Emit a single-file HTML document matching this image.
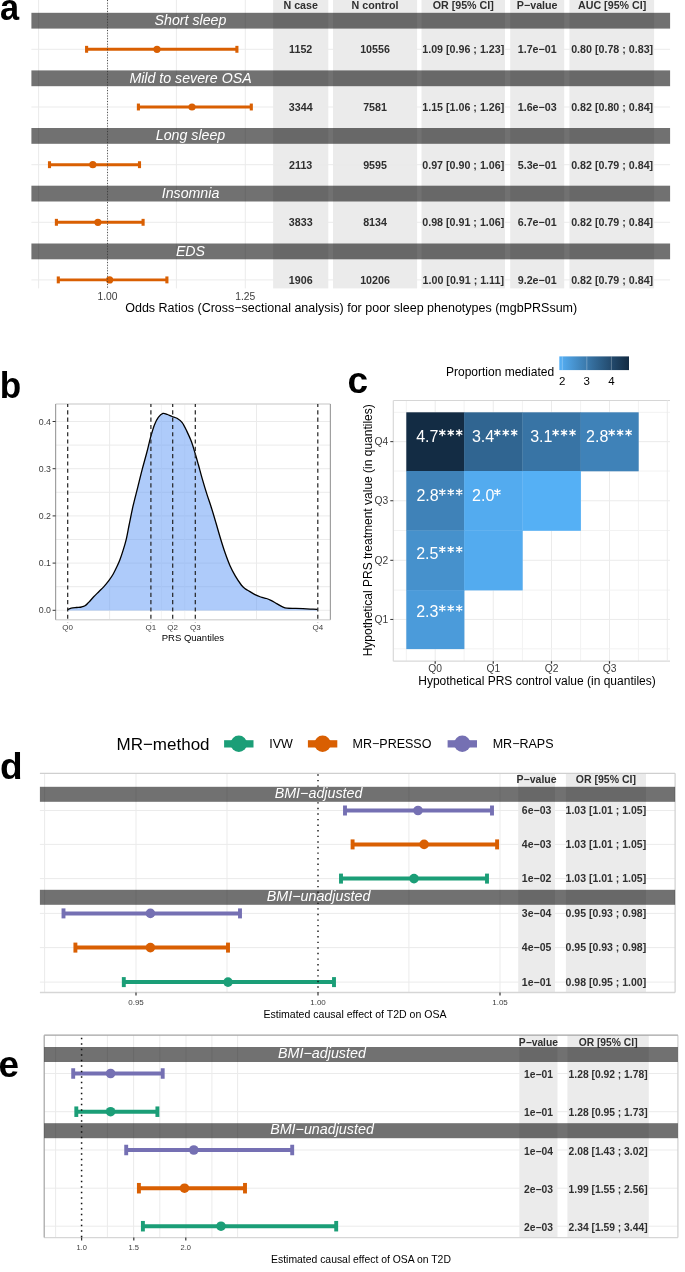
<!DOCTYPE html><html><head><meta charset="utf-8"><style>html,body{margin:0;padding:0;background:#fff;}svg{display:block;will-change:transform;}text{font-family:"Liberation Sans", sans-serif;}</style></head><body>
<svg width="685" height="1272" viewBox="0 0 685 1272">
<rect x="0.00" y="0.00" width="685.00" height="1272.00" fill="#fff" />
<rect x="273.10" y="0.00" width="55.20" height="288.40" fill="#EBEBEB" />
<rect x="333.00" y="0.00" width="84.10" height="288.40" fill="#EBEBEB" />
<rect x="421.50" y="0.00" width="83.50" height="288.40" fill="#EBEBEB" />
<rect x="510.20" y="0.00" width="54.00" height="288.40" fill="#EBEBEB" />
<rect x="569.40" y="0.00" width="84.70" height="288.40" fill="#EBEBEB" />
<line x1="38.60" y1="0.00" x2="38.60" y2="288.40" stroke="#EBEBEB" stroke-width="1" />
<line x1="107.60" y1="0.00" x2="107.60" y2="288.40" stroke="#EBEBEB" stroke-width="1" />
<line x1="176.40" y1="0.00" x2="176.40" y2="288.40" stroke="#EBEBEB" stroke-width="1" />
<line x1="245.30" y1="0.00" x2="245.30" y2="288.40" stroke="#EBEBEB" stroke-width="1" />
<line x1="31.40" y1="49.30" x2="670.10" y2="49.30" stroke="#EBEBEB" stroke-width="1" />
<line x1="31.40" y1="107.00" x2="670.10" y2="107.00" stroke="#EBEBEB" stroke-width="1" />
<line x1="31.40" y1="164.70" x2="670.10" y2="164.70" stroke="#EBEBEB" stroke-width="1" />
<line x1="31.40" y1="222.30" x2="670.10" y2="222.30" stroke="#EBEBEB" stroke-width="1" />
<line x1="31.40" y1="279.90" x2="670.10" y2="279.90" stroke="#EBEBEB" stroke-width="1" />
<rect x="31.40" y="12.80" width="638.70" height="15.80" fill="#000" fill-opacity="0.555" />
<text x="190.50" y="25.00" font-size="14.2" fill="#fff" text-anchor="middle" font-weight="normal" font-style="italic" >Short sleep</text>
<rect x="31.40" y="70.40" width="638.70" height="15.80" fill="#000" fill-opacity="0.555" />
<text x="190.50" y="82.60" font-size="14.2" fill="#fff" text-anchor="middle" font-weight="normal" font-style="italic" >Mild to severe OSA</text>
<rect x="31.40" y="128.00" width="638.70" height="15.80" fill="#000" fill-opacity="0.555" />
<text x="190.50" y="140.20" font-size="14.2" fill="#fff" text-anchor="middle" font-weight="normal" font-style="italic" >Long sleep</text>
<rect x="31.40" y="185.70" width="638.70" height="15.80" fill="#000" fill-opacity="0.555" />
<text x="190.50" y="197.90" font-size="14.2" fill="#fff" text-anchor="middle" font-weight="normal" font-style="italic" >Insomnia</text>
<rect x="31.40" y="243.50" width="638.70" height="15.80" fill="#000" fill-opacity="0.555" />
<text x="190.50" y="255.70" font-size="14.2" fill="#fff" text-anchor="middle" font-weight="normal" font-style="italic" >EDS</text>
<line x1="86.60" y1="49.30" x2="236.90" y2="49.30" stroke="#D95F02" stroke-width="2.9" />
<rect x="85.05" y="45.85" width="3.10" height="6.90" fill="#D95F02" />
<rect x="235.35" y="45.85" width="3.10" height="6.90" fill="#D95F02" />
<circle cx="157.00" cy="49.30" r="3.6" fill="#D95F02"/>
<line x1="138.40" y1="107.00" x2="251.30" y2="107.00" stroke="#D95F02" stroke-width="2.9" />
<rect x="136.85" y="103.55" width="3.10" height="6.90" fill="#D95F02" />
<rect x="249.75" y="103.55" width="3.10" height="6.90" fill="#D95F02" />
<circle cx="192.00" cy="107.00" r="3.6" fill="#D95F02"/>
<line x1="49.50" y1="164.70" x2="139.50" y2="164.70" stroke="#D95F02" stroke-width="2.9" />
<rect x="47.95" y="161.25" width="3.10" height="6.90" fill="#D95F02" />
<rect x="137.95" y="161.25" width="3.10" height="6.90" fill="#D95F02" />
<circle cx="92.80" cy="164.70" r="3.6" fill="#D95F02"/>
<line x1="56.40" y1="222.30" x2="143.10" y2="222.30" stroke="#D95F02" stroke-width="2.9" />
<rect x="54.85" y="218.85" width="3.10" height="6.90" fill="#D95F02" />
<rect x="141.55" y="218.85" width="3.10" height="6.90" fill="#D95F02" />
<circle cx="97.90" cy="222.30" r="3.6" fill="#D95F02"/>
<line x1="58.30" y1="279.90" x2="166.90" y2="279.90" stroke="#D95F02" stroke-width="2.9" />
<rect x="56.75" y="276.45" width="3.10" height="6.90" fill="#D95F02" />
<rect x="165.35" y="276.45" width="3.10" height="6.90" fill="#D95F02" />
<circle cx="109.60" cy="279.90" r="3.6" fill="#D95F02"/>
<line x1="107.50" y1="0.00" x2="107.50" y2="288.40" stroke="#3A3A3A" stroke-width="0.9" stroke-dasharray="1 1.73"/>
<text x="300.70" y="9.00" font-size="10.7" fill="#2F2F2F" text-anchor="middle" font-weight="bold" font-style="normal" >N case</text>
<text x="375.05" y="9.00" font-size="10.7" fill="#2F2F2F" text-anchor="middle" font-weight="bold" font-style="normal" >N control</text>
<text x="463.25" y="9.00" font-size="10.7" fill="#2F2F2F" text-anchor="middle" font-weight="bold" font-style="normal" >OR [95% CI]</text>
<text x="537.20" y="9.00" font-size="10.7" fill="#2F2F2F" text-anchor="middle" font-weight="bold" font-style="normal" >P−value</text>
<text x="612.15" y="9.00" font-size="10.7" fill="#2F2F2F" text-anchor="middle" font-weight="bold" font-style="normal" >AUC [95% CI]</text>
<text x="300.70" y="53.40" font-size="10.7" fill="#2F2F2F" text-anchor="middle" font-weight="bold" font-style="normal" >1152</text>
<text x="375.05" y="53.40" font-size="10.7" fill="#2F2F2F" text-anchor="middle" font-weight="bold" font-style="normal" >10556</text>
<text x="463.25" y="53.40" font-size="10.7" fill="#2F2F2F" text-anchor="middle" font-weight="bold" font-style="normal" >1.09 [0.96 ; 1.23]</text>
<text x="537.20" y="53.40" font-size="10.7" fill="#2F2F2F" text-anchor="middle" font-weight="bold" font-style="normal" >1.7e−01</text>
<text x="612.15" y="53.40" font-size="10.7" fill="#2F2F2F" text-anchor="middle" font-weight="bold" font-style="normal" >0.80 [0.78 ; 0.83]</text>
<text x="300.70" y="111.10" font-size="10.7" fill="#2F2F2F" text-anchor="middle" font-weight="bold" font-style="normal" >3344</text>
<text x="375.05" y="111.10" font-size="10.7" fill="#2F2F2F" text-anchor="middle" font-weight="bold" font-style="normal" >7581</text>
<text x="463.25" y="111.10" font-size="10.7" fill="#2F2F2F" text-anchor="middle" font-weight="bold" font-style="normal" >1.15 [1.06 ; 1.26]</text>
<text x="537.20" y="111.10" font-size="10.7" fill="#2F2F2F" text-anchor="middle" font-weight="bold" font-style="normal" >1.6e−03</text>
<text x="612.15" y="111.10" font-size="10.7" fill="#2F2F2F" text-anchor="middle" font-weight="bold" font-style="normal" >0.82 [0.80 ; 0.84]</text>
<text x="300.70" y="168.80" font-size="10.7" fill="#2F2F2F" text-anchor="middle" font-weight="bold" font-style="normal" >2113</text>
<text x="375.05" y="168.80" font-size="10.7" fill="#2F2F2F" text-anchor="middle" font-weight="bold" font-style="normal" >9595</text>
<text x="463.25" y="168.80" font-size="10.7" fill="#2F2F2F" text-anchor="middle" font-weight="bold" font-style="normal" >0.97 [0.90 ; 1.06]</text>
<text x="537.20" y="168.80" font-size="10.7" fill="#2F2F2F" text-anchor="middle" font-weight="bold" font-style="normal" >5.3e−01</text>
<text x="612.15" y="168.80" font-size="10.7" fill="#2F2F2F" text-anchor="middle" font-weight="bold" font-style="normal" >0.82 [0.79 ; 0.84]</text>
<text x="300.70" y="226.40" font-size="10.7" fill="#2F2F2F" text-anchor="middle" font-weight="bold" font-style="normal" >3833</text>
<text x="375.05" y="226.40" font-size="10.7" fill="#2F2F2F" text-anchor="middle" font-weight="bold" font-style="normal" >8134</text>
<text x="463.25" y="226.40" font-size="10.7" fill="#2F2F2F" text-anchor="middle" font-weight="bold" font-style="normal" >0.98 [0.91 ; 1.06]</text>
<text x="537.20" y="226.40" font-size="10.7" fill="#2F2F2F" text-anchor="middle" font-weight="bold" font-style="normal" >6.7e−01</text>
<text x="612.15" y="226.40" font-size="10.7" fill="#2F2F2F" text-anchor="middle" font-weight="bold" font-style="normal" >0.82 [0.79 ; 0.84]</text>
<text x="300.70" y="284.00" font-size="10.7" fill="#2F2F2F" text-anchor="middle" font-weight="bold" font-style="normal" >1906</text>
<text x="375.05" y="284.00" font-size="10.7" fill="#2F2F2F" text-anchor="middle" font-weight="bold" font-style="normal" >10206</text>
<text x="463.25" y="284.00" font-size="10.7" fill="#2F2F2F" text-anchor="middle" font-weight="bold" font-style="normal" >1.00 [0.91 ; 1.11]</text>
<text x="537.20" y="284.00" font-size="10.7" fill="#2F2F2F" text-anchor="middle" font-weight="bold" font-style="normal" >9.2e−01</text>
<text x="612.15" y="284.00" font-size="10.7" fill="#2F2F2F" text-anchor="middle" font-weight="bold" font-style="normal" >0.82 [0.79 ; 0.84]</text>
<text x="107.50" y="299.50" font-size="10.3" fill="#3C3C3C" text-anchor="middle" font-weight="normal" font-style="normal" >1.00</text>
<text x="245.30" y="299.50" font-size="10.3" fill="#3C3C3C" text-anchor="middle" font-weight="normal" font-style="normal" >1.25</text>
<text x="351.20" y="312.20" font-size="12.5" fill="#000" text-anchor="middle" font-weight="normal" font-style="normal" >Odds Ratios (Cross−sectional analysis) for poor sleep phenotypes (mgbPRSsum)</text>
<text transform="translate(0,20.3) scale(0.93,1)" font-size="37" font-weight="bold" fill="#000">a</text>
<line x1="55.60" y1="610.30" x2="330.40" y2="610.30" stroke="#EBEBEB" stroke-width="1" />
<line x1="55.60" y1="586.70" x2="330.40" y2="586.70" stroke="#EBEBEB" stroke-width="1" />
<line x1="55.60" y1="563.10" x2="330.40" y2="563.10" stroke="#EBEBEB" stroke-width="1" />
<line x1="55.60" y1="539.50" x2="330.40" y2="539.50" stroke="#EBEBEB" stroke-width="1" />
<line x1="55.60" y1="515.90" x2="330.40" y2="515.90" stroke="#EBEBEB" stroke-width="1" />
<line x1="55.60" y1="492.30" x2="330.40" y2="492.30" stroke="#EBEBEB" stroke-width="1" />
<line x1="55.60" y1="468.70" x2="330.40" y2="468.70" stroke="#EBEBEB" stroke-width="1" />
<line x1="55.60" y1="445.10" x2="330.40" y2="445.10" stroke="#EBEBEB" stroke-width="1" />
<line x1="55.60" y1="421.50" x2="330.40" y2="421.50" stroke="#EBEBEB" stroke-width="1" />
<line x1="109.60" y1="404.00" x2="109.60" y2="619.80" stroke="#EBEBEB" stroke-width="1" />
<line x1="256.50" y1="404.00" x2="256.50" y2="619.80" stroke="#EBEBEB" stroke-width="1" />
<line x1="161.40" y1="404.00" x2="161.40" y2="619.80" stroke="#F3F3F3" stroke-width="1" />
<line x1="184.80" y1="404.00" x2="184.80" y2="619.80" stroke="#F3F3F3" stroke-width="1" />
<path d="M67.40,609.60 C68.03,609.37 69.72,608.55 71.20,608.20 C72.68,607.85 74.58,607.70 76.30,607.50 C78.02,607.30 80.05,607.28 81.50,607.00 C82.95,606.72 83.82,606.57 85.00,605.80 C86.18,605.03 87.15,603.90 88.60,602.40 C90.05,600.90 92.00,598.58 93.70,596.80 C95.40,595.02 97.10,593.40 98.80,591.70 C100.50,590.00 102.20,588.48 103.90,586.60 C105.60,584.72 107.47,582.45 109.00,580.40 C110.53,578.35 111.73,576.68 113.10,574.30 C114.47,571.92 116.05,568.57 117.20,566.10 C118.35,563.63 119.03,562.08 120.00,559.50 C120.97,556.92 121.98,553.87 123.00,550.60 C124.02,547.33 125.07,544.25 126.10,539.90 C127.13,535.55 128.05,530.12 129.20,524.50 C130.35,518.88 131.60,512.32 133.00,506.20 C134.40,500.08 136.07,493.93 137.60,487.80 C139.13,481.67 140.67,475.28 142.20,469.40 C143.73,463.52 145.40,457.87 146.80,452.50 C148.20,447.13 149.33,441.80 150.60,437.20 C151.87,432.60 153.12,428.22 154.40,424.90 C155.68,421.58 156.88,419.22 158.30,417.30 C159.72,415.38 161.37,413.87 162.90,413.40 C164.43,412.93 165.97,413.98 167.50,414.50 C169.03,415.02 170.52,415.87 172.10,416.50 C173.68,417.13 175.32,417.28 177.00,418.30 C178.68,419.32 180.57,420.47 182.20,422.60 C183.83,424.73 185.25,427.90 186.80,431.10 C188.35,434.30 190.08,437.98 191.50,441.80 C192.92,445.62 194.15,450.17 195.30,454.00 C196.45,457.83 197.25,460.70 198.40,464.80 C199.55,468.90 200.80,473.75 202.20,478.60 C203.60,483.45 205.27,489.05 206.80,493.90 C208.33,498.75 209.87,502.85 211.40,507.70 C212.93,512.55 214.48,517.87 216.00,523.00 C217.52,528.13 219.02,533.62 220.50,538.50 C221.98,543.38 223.33,547.80 224.90,552.30 C226.47,556.80 228.15,561.52 229.90,565.50 C231.65,569.48 233.50,572.95 235.40,576.20 C237.30,579.45 239.73,582.95 241.30,585.00 C242.87,587.05 243.43,587.43 244.80,588.50 C246.17,589.57 247.80,590.38 249.50,591.40 C251.20,592.42 253.13,593.67 255.00,594.60 C256.87,595.53 258.78,596.35 260.70,597.00 C262.62,597.65 264.80,597.93 266.50,598.50 C268.20,599.07 269.20,599.55 270.90,600.40 C272.60,601.25 274.75,602.52 276.70,603.60 C278.65,604.68 280.90,606.13 282.60,606.90 C284.30,607.67 284.72,607.95 286.90,608.20 C289.08,608.45 293.02,608.32 295.70,608.40 C298.38,608.48 300.57,608.58 303.00,608.70 C305.43,608.82 307.87,608.98 310.30,609.10 C312.73,609.22 316.38,609.35 317.60,609.40 L317.6,610.5999999999999 L67.4,610.5999999999999 Z" fill="#5D97F5" fill-opacity="0.5" stroke="none"/>
<path d="M67.40,609.60 C68.03,609.37 69.72,608.55 71.20,608.20 C72.68,607.85 74.58,607.70 76.30,607.50 C78.02,607.30 80.05,607.28 81.50,607.00 C82.95,606.72 83.82,606.57 85.00,605.80 C86.18,605.03 87.15,603.90 88.60,602.40 C90.05,600.90 92.00,598.58 93.70,596.80 C95.40,595.02 97.10,593.40 98.80,591.70 C100.50,590.00 102.20,588.48 103.90,586.60 C105.60,584.72 107.47,582.45 109.00,580.40 C110.53,578.35 111.73,576.68 113.10,574.30 C114.47,571.92 116.05,568.57 117.20,566.10 C118.35,563.63 119.03,562.08 120.00,559.50 C120.97,556.92 121.98,553.87 123.00,550.60 C124.02,547.33 125.07,544.25 126.10,539.90 C127.13,535.55 128.05,530.12 129.20,524.50 C130.35,518.88 131.60,512.32 133.00,506.20 C134.40,500.08 136.07,493.93 137.60,487.80 C139.13,481.67 140.67,475.28 142.20,469.40 C143.73,463.52 145.40,457.87 146.80,452.50 C148.20,447.13 149.33,441.80 150.60,437.20 C151.87,432.60 153.12,428.22 154.40,424.90 C155.68,421.58 156.88,419.22 158.30,417.30 C159.72,415.38 161.37,413.87 162.90,413.40 C164.43,412.93 165.97,413.98 167.50,414.50 C169.03,415.02 170.52,415.87 172.10,416.50 C173.68,417.13 175.32,417.28 177.00,418.30 C178.68,419.32 180.57,420.47 182.20,422.60 C183.83,424.73 185.25,427.90 186.80,431.10 C188.35,434.30 190.08,437.98 191.50,441.80 C192.92,445.62 194.15,450.17 195.30,454.00 C196.45,457.83 197.25,460.70 198.40,464.80 C199.55,468.90 200.80,473.75 202.20,478.60 C203.60,483.45 205.27,489.05 206.80,493.90 C208.33,498.75 209.87,502.85 211.40,507.70 C212.93,512.55 214.48,517.87 216.00,523.00 C217.52,528.13 219.02,533.62 220.50,538.50 C221.98,543.38 223.33,547.80 224.90,552.30 C226.47,556.80 228.15,561.52 229.90,565.50 C231.65,569.48 233.50,572.95 235.40,576.20 C237.30,579.45 239.73,582.95 241.30,585.00 C242.87,587.05 243.43,587.43 244.80,588.50 C246.17,589.57 247.80,590.38 249.50,591.40 C251.20,592.42 253.13,593.67 255.00,594.60 C256.87,595.53 258.78,596.35 260.70,597.00 C262.62,597.65 264.80,597.93 266.50,598.50 C268.20,599.07 269.20,599.55 270.90,600.40 C272.60,601.25 274.75,602.52 276.70,603.60 C278.65,604.68 280.90,606.13 282.60,606.90 C284.30,607.67 284.72,607.95 286.90,608.20 C289.08,608.45 293.02,608.32 295.70,608.40 C298.38,608.48 300.57,608.58 303.00,608.70 C305.43,608.82 307.87,608.98 310.30,609.10 C312.73,609.22 316.38,609.35 317.60,609.40" fill="none" stroke="#000" stroke-width="1.3"/>
<line x1="55.60" y1="404.00" x2="330.40" y2="404.00" stroke="#D9D9D9" stroke-width="1.4" />
<line x1="55.60" y1="619.80" x2="330.40" y2="619.80" stroke="#D9D9D9" stroke-width="1.4" />
<line x1="330.40" y1="404.00" x2="330.40" y2="619.80" stroke="#A0A0A0" stroke-width="1.2" />
<line x1="55.60" y1="404.00" x2="55.60" y2="619.80" stroke="#A0A0A0" stroke-width="1.2" />
<line x1="67.70" y1="404.00" x2="67.70" y2="622.30" stroke="#222" stroke-width="1.2" stroke-dasharray="4.1 3.2" stroke-dashoffset="1.0"/>
<line x1="150.90" y1="404.00" x2="150.90" y2="622.30" stroke="#222" stroke-width="1.2" stroke-dasharray="4.1 3.2" stroke-dashoffset="1.0"/>
<line x1="172.70" y1="404.00" x2="172.70" y2="622.30" stroke="#222" stroke-width="1.2" stroke-dasharray="4.1 3.2" stroke-dashoffset="1.0"/>
<line x1="195.30" y1="404.00" x2="195.30" y2="622.30" stroke="#222" stroke-width="1.2" stroke-dasharray="4.1 3.2" stroke-dashoffset="1.0"/>
<line x1="317.80" y1="404.00" x2="317.80" y2="622.30" stroke="#222" stroke-width="1.2" stroke-dasharray="4.1 3.2" stroke-dashoffset="1.0"/>
<line x1="52.60" y1="610.30" x2="55.60" y2="610.30" stroke="#333" stroke-width="1" />
<text x="51.00" y="613.40" font-size="8.8" fill="#3C3C3C" text-anchor="end" font-weight="normal" font-style="normal" >0.0</text>
<line x1="52.60" y1="563.10" x2="55.60" y2="563.10" stroke="#333" stroke-width="1" />
<text x="51.00" y="566.20" font-size="8.8" fill="#3C3C3C" text-anchor="end" font-weight="normal" font-style="normal" >0.1</text>
<line x1="52.60" y1="515.90" x2="55.60" y2="515.90" stroke="#333" stroke-width="1" />
<text x="51.00" y="519.00" font-size="8.8" fill="#3C3C3C" text-anchor="end" font-weight="normal" font-style="normal" >0.2</text>
<line x1="52.60" y1="468.70" x2="55.60" y2="468.70" stroke="#333" stroke-width="1" />
<text x="51.00" y="471.80" font-size="8.8" fill="#3C3C3C" text-anchor="end" font-weight="normal" font-style="normal" >0.3</text>
<line x1="52.60" y1="421.50" x2="55.60" y2="421.50" stroke="#333" stroke-width="1" />
<text x="51.00" y="424.60" font-size="8.8" fill="#3C3C3C" text-anchor="end" font-weight="normal" font-style="normal" >0.4</text>
<text x="67.70" y="630.00" font-size="8" fill="#3C3C3C" text-anchor="middle" font-weight="normal" font-style="normal" >Q0</text>
<text x="150.90" y="630.00" font-size="8" fill="#3C3C3C" text-anchor="middle" font-weight="normal" font-style="normal" >Q1</text>
<text x="172.70" y="630.00" font-size="8" fill="#3C3C3C" text-anchor="middle" font-weight="normal" font-style="normal" >Q2</text>
<text x="195.30" y="630.00" font-size="8" fill="#3C3C3C" text-anchor="middle" font-weight="normal" font-style="normal" >Q3</text>
<text x="317.80" y="630.00" font-size="8" fill="#3C3C3C" text-anchor="middle" font-weight="normal" font-style="normal" >Q4</text>
<text x="192.90" y="640.70" font-size="9.5" fill="#000" text-anchor="middle" font-weight="normal" font-style="normal" >PRS Quantiles</text>
<text transform="translate(-0.3,398.3) scale(0.95,1)" font-size="37" font-weight="bold" fill="#000">b</text>
<line x1="435.20" y1="400.50" x2="435.20" y2="661.20" stroke="#EBEBEB" stroke-width="1" />
<line x1="493.25" y1="400.50" x2="493.25" y2="661.20" stroke="#EBEBEB" stroke-width="1" />
<line x1="551.50" y1="400.50" x2="551.50" y2="661.20" stroke="#EBEBEB" stroke-width="1" />
<line x1="609.50" y1="400.50" x2="609.50" y2="661.20" stroke="#EBEBEB" stroke-width="1" />
<line x1="406.30" y1="400.50" x2="406.30" y2="661.20" stroke="#F2F2F2" stroke-width="1" />
<line x1="464.10" y1="400.50" x2="464.10" y2="661.20" stroke="#F2F2F2" stroke-width="1" />
<line x1="522.40" y1="400.50" x2="522.40" y2="661.20" stroke="#F2F2F2" stroke-width="1" />
<line x1="580.60" y1="400.50" x2="580.60" y2="661.20" stroke="#F2F2F2" stroke-width="1" />
<line x1="638.40" y1="400.50" x2="638.40" y2="661.20" stroke="#F2F2F2" stroke-width="1" />
<line x1="393.30" y1="441.65" x2="670.00" y2="441.65" stroke="#EBEBEB" stroke-width="1" />
<line x1="393.30" y1="500.75" x2="670.00" y2="500.75" stroke="#EBEBEB" stroke-width="1" />
<line x1="393.30" y1="560.30" x2="670.00" y2="560.30" stroke="#EBEBEB" stroke-width="1" />
<line x1="393.30" y1="619.45" x2="670.00" y2="619.45" stroke="#EBEBEB" stroke-width="1" />
<line x1="393.30" y1="412.30" x2="670.00" y2="412.30" stroke="#F2F2F2" stroke-width="1" />
<line x1="393.30" y1="471.00" x2="670.00" y2="471.00" stroke="#F2F2F2" stroke-width="1" />
<line x1="393.30" y1="530.50" x2="670.00" y2="530.50" stroke="#F2F2F2" stroke-width="1" />
<line x1="393.30" y1="590.10" x2="670.00" y2="590.10" stroke="#F2F2F2" stroke-width="1" />
<line x1="393.30" y1="648.80" x2="670.00" y2="648.80" stroke="#F2F2F2" stroke-width="1" />
<line x1="393.30" y1="400.50" x2="670.00" y2="400.50" stroke="#D6D6D6" stroke-width="1.2" />
<line x1="393.30" y1="661.20" x2="670.00" y2="661.20" stroke="#D9D9D9" stroke-width="1.2" />
<line x1="393.30" y1="400.50" x2="393.30" y2="661.20" stroke="#D9D9D9" stroke-width="1.2" />
<line x1="667.30" y1="400.50" x2="667.30" y2="661.20" stroke="#EBEBEB" stroke-width="1" />
<rect x="406.30" y="412.30" width="58.10" height="59.00" fill="#132C44" />
<rect x="464.10" y="412.30" width="58.60" height="59.00" fill="#306591" />
<rect x="522.40" y="412.30" width="58.50" height="59.00" fill="#3874A5" />
<rect x="580.60" y="412.30" width="58.10" height="59.00" fill="#3F82B8" />
<rect x="406.30" y="471.00" width="58.10" height="59.80" fill="#3F82B8" />
<rect x="464.10" y="471.00" width="58.60" height="59.80" fill="#53ABEF" />
<rect x="522.40" y="471.00" width="58.50" height="59.80" fill="#55B0F5" />
<rect x="406.30" y="530.50" width="58.10" height="59.90" fill="#4691CC" />
<rect x="464.10" y="530.50" width="58.60" height="59.90" fill="#53ABEF" />
<rect x="406.30" y="590.10" width="58.10" height="59.00" fill="#4B9BDA" />
<text x="416.20" y="441.80" font-size="16.0" fill="#fff" text-anchor="start">4.7</text>
<text x="471.90" y="441.80" font-size="16.0" fill="#fff" text-anchor="start">3.4</text>
<text x="530.20" y="441.80" font-size="16.0" fill="#fff" text-anchor="start">3.1</text>
<text x="586.10" y="441.80" font-size="16.0" fill="#fff" text-anchor="start">2.8</text>
<text x="416.40" y="501.30" font-size="16.0" fill="#fff" text-anchor="start">2.8</text>
<text x="472.10" y="501.30" font-size="16.0" fill="#fff" text-anchor="start">2.0</text>
<text x="416.20" y="558.50" font-size="16.0" fill="#fff" text-anchor="start">2.5</text>
<text x="416.20" y="617.40" font-size="16.0" fill="#fff" text-anchor="start">2.3</text>
<path d="M459.20,429.20L459.20,436.20M456.08,430.90L462.32,434.50M462.32,430.90L456.08,434.50M450.75,429.20L450.75,436.20M447.63,430.90L453.87,434.50M453.87,430.90L447.63,434.50M442.30,429.20L442.30,436.20M439.18,430.90L445.42,434.50M445.42,430.90L439.18,434.50M514.20,429.20L514.20,436.20M511.08,430.90L517.32,434.50M517.32,430.90L511.08,434.50M505.75,429.20L505.75,436.20M502.63,430.90L508.87,434.50M508.87,430.90L502.63,434.50M497.30,429.20L497.30,436.20M494.18,430.90L500.42,434.50M500.42,430.90L494.18,434.50M572.50,429.20L572.50,436.20M569.38,430.90L575.62,434.50M575.62,430.90L569.38,434.50M564.05,429.20L564.05,436.20M560.93,430.90L567.17,434.50M567.17,430.90L560.93,434.50M555.60,429.20L555.60,436.20M552.48,430.90L558.72,434.50M558.72,430.90L552.48,434.50M628.60,429.20L628.60,436.20M625.48,430.90L631.72,434.50M631.72,430.90L625.48,434.50M620.15,429.20L620.15,436.20M617.03,430.90L623.27,434.50M623.27,430.90L617.03,434.50M611.70,429.20L611.70,436.20M608.58,430.90L614.82,434.50M614.82,430.90L608.58,434.50M459.20,488.70L459.20,495.70M456.08,490.40L462.32,494.00M462.32,490.40L456.08,494.00M450.75,488.70L450.75,495.70M447.63,490.40L453.87,494.00M453.87,490.40L447.63,494.00M442.30,488.70L442.30,495.70M439.18,490.40L445.42,494.00M445.42,490.40L439.18,494.00M497.40,488.70L497.40,495.70M494.28,490.40L500.52,494.00M500.52,490.40L494.28,494.00M459.20,545.90L459.20,552.90M456.08,547.60L462.32,551.20M462.32,547.60L456.08,551.20M450.75,545.90L450.75,552.90M447.63,547.60L453.87,551.20M453.87,547.60L447.63,551.20M442.30,545.90L442.30,552.90M439.18,547.60L445.42,551.20M445.42,547.60L439.18,551.20M459.20,604.80L459.20,611.80M456.08,606.50L462.32,610.10M462.32,606.50L456.08,610.10M450.75,604.80L450.75,611.80M447.63,606.50L453.87,610.10M453.87,606.50L447.63,610.10M442.30,604.80L442.30,611.80M439.18,606.50L445.42,610.10M445.42,606.50L439.18,610.10" stroke="#fff" stroke-width="1.3" fill="none"/>
<line x1="390.30" y1="441.65" x2="393.30" y2="441.65" stroke="#333" stroke-width="1" />
<text x="388.30" y="445.35" font-size="10.3" fill="#3C3C3C" text-anchor="end" font-weight="normal" font-style="normal" >Q4</text>
<line x1="390.30" y1="500.75" x2="393.30" y2="500.75" stroke="#333" stroke-width="1" />
<text x="388.30" y="504.45" font-size="10.3" fill="#3C3C3C" text-anchor="end" font-weight="normal" font-style="normal" >Q3</text>
<line x1="390.30" y1="560.30" x2="393.30" y2="560.30" stroke="#333" stroke-width="1" />
<text x="388.30" y="564.00" font-size="10.3" fill="#3C3C3C" text-anchor="end" font-weight="normal" font-style="normal" >Q2</text>
<line x1="390.30" y1="619.45" x2="393.30" y2="619.45" stroke="#333" stroke-width="1" />
<text x="388.30" y="623.15" font-size="10.3" fill="#3C3C3C" text-anchor="end" font-weight="normal" font-style="normal" >Q1</text>
<line x1="435.20" y1="661.20" x2="435.20" y2="663.70" stroke="#333" stroke-width="1.2" />
<text x="435.20" y="672.30" font-size="10.3" fill="#3C3C3C" text-anchor="middle" font-weight="normal" font-style="normal" >Q0</text>
<line x1="493.25" y1="661.20" x2="493.25" y2="663.70" stroke="#333" stroke-width="1.2" />
<text x="493.25" y="672.30" font-size="10.3" fill="#3C3C3C" text-anchor="middle" font-weight="normal" font-style="normal" >Q1</text>
<line x1="551.50" y1="661.20" x2="551.50" y2="663.70" stroke="#333" stroke-width="1.2" />
<text x="551.50" y="672.30" font-size="10.3" fill="#3C3C3C" text-anchor="middle" font-weight="normal" font-style="normal" >Q2</text>
<line x1="609.50" y1="661.20" x2="609.50" y2="663.70" stroke="#333" stroke-width="1.2" />
<text x="609.50" y="672.30" font-size="10.3" fill="#3C3C3C" text-anchor="middle" font-weight="normal" font-style="normal" >Q3</text>
<text x="537.00" y="684.60" font-size="12.0" fill="#000" text-anchor="middle" font-weight="normal" font-style="normal" >Hypothetical PRS control value (in quantiles)</text>
<text transform="translate(371.8,530.3) rotate(-90)" x="0" y="0" font-size="12.0" text-anchor="middle" fill="#000">Hypothetical PRS treatment value (in quantiles)</text>
<defs><linearGradient id="cb" x1="0" x2="1" y1="0" y2="0"><stop offset="0.0" stop-color="#56B1F7"/><stop offset="0.1" stop-color="#4FA2E3"/><stop offset="0.2" stop-color="#4894D0"/><stop offset="0.3" stop-color="#4186BD"/><stop offset="0.4" stop-color="#3A78AA"/><stop offset="0.5" stop-color="#336A98"/><stop offset="0.6" stop-color="#2C5D86"/><stop offset="0.7" stop-color="#265075"/><stop offset="0.8" stop-color="#1F4364"/><stop offset="0.9" stop-color="#193753"/><stop offset="1.0" stop-color="#132B43"/></linearGradient></defs>
<rect x="559.30" y="356.40" width="69.70" height="13.70" fill="url(#cb)" />
<line x1="562.30" y1="356.40" x2="562.30" y2="370.10" stroke="#fff" stroke-width="0.8" stroke-opacity="0.35"/>
<text x="562.30" y="385.00" font-size="11.5" fill="#000" text-anchor="middle" font-weight="normal" font-style="normal" >2</text>
<line x1="586.80" y1="356.40" x2="586.80" y2="370.10" stroke="#fff" stroke-width="0.8" stroke-opacity="0.35"/>
<text x="586.80" y="385.00" font-size="11.5" fill="#000" text-anchor="middle" font-weight="normal" font-style="normal" >3</text>
<line x1="611.40" y1="356.40" x2="611.40" y2="370.10" stroke="#fff" stroke-width="0.8" stroke-opacity="0.35"/>
<text x="611.40" y="385.00" font-size="11.5" fill="#000" text-anchor="middle" font-weight="normal" font-style="normal" >4</text>
<text x="446.00" y="376.00" font-size="12.0" fill="#000" text-anchor="start" font-weight="normal" font-style="normal" >Proportion mediated</text>
<text x="347.50" y="393.30" font-size="37" fill="#000" text-anchor="start" font-weight="bold" font-style="normal" >c</text>
<rect x="518.20" y="773.30" width="36.80" height="219.20" fill="#EBEBEB" />
<rect x="565.90" y="773.30" width="80.10" height="219.20" fill="#EBEBEB" />
<line x1="44.60" y1="773.30" x2="44.60" y2="992.50" stroke="#EBEBEB" stroke-width="1" />
<line x1="136.00" y1="773.30" x2="136.00" y2="992.50" stroke="#EBEBEB" stroke-width="1" />
<line x1="227.00" y1="773.30" x2="227.00" y2="992.50" stroke="#EBEBEB" stroke-width="1" />
<line x1="408.90" y1="773.30" x2="408.90" y2="992.50" stroke="#EBEBEB" stroke-width="1" />
<line x1="500.00" y1="773.30" x2="500.00" y2="992.50" stroke="#EBEBEB" stroke-width="1" />
<line x1="39.90" y1="810.50" x2="675.10" y2="810.50" stroke="#EBEBEB" stroke-width="1" />
<line x1="39.90" y1="844.40" x2="675.10" y2="844.40" stroke="#EBEBEB" stroke-width="1" />
<line x1="39.90" y1="878.60" x2="675.10" y2="878.60" stroke="#EBEBEB" stroke-width="1" />
<line x1="39.90" y1="913.40" x2="675.10" y2="913.40" stroke="#EBEBEB" stroke-width="1" />
<line x1="39.90" y1="947.60" x2="675.10" y2="947.60" stroke="#EBEBEB" stroke-width="1" />
<line x1="39.90" y1="982.10" x2="675.10" y2="982.10" stroke="#EBEBEB" stroke-width="1" />
<line x1="39.90" y1="773.30" x2="675.10" y2="773.30" stroke="#CFCFCF" stroke-width="1.2" />
<line x1="39.90" y1="992.50" x2="675.10" y2="992.50" stroke="#D6D6D6" stroke-width="1.4" />
<line x1="675.10" y1="773.30" x2="675.10" y2="992.50" stroke="#CFCFCF" stroke-width="1.2" />
<rect x="39.90" y="786.80" width="635.20" height="15.00" fill="#000" fill-opacity="0.555" />
<rect x="39.90" y="889.80" width="635.20" height="15.00" fill="#000" fill-opacity="0.555" />
<line x1="345.00" y1="810.50" x2="492.00" y2="810.50" stroke="#7570B3" stroke-width="4.0" />
<rect x="343.05" y="805.50" width="3.90" height="10.00" fill="#7570B3" />
<rect x="490.05" y="805.50" width="3.90" height="10.00" fill="#7570B3" />
<circle cx="418.00" cy="810.50" r="4.8" fill="#7570B3"/>
<line x1="352.60" y1="844.40" x2="497.10" y2="844.40" stroke="#D95F02" stroke-width="4.0" />
<rect x="350.65" y="839.40" width="3.90" height="10.00" fill="#D95F02" />
<rect x="495.15" y="839.40" width="3.90" height="10.00" fill="#D95F02" />
<circle cx="424.10" cy="844.40" r="4.8" fill="#D95F02"/>
<line x1="341.00" y1="878.60" x2="487.00" y2="878.60" stroke="#1B9E77" stroke-width="4.0" />
<rect x="339.05" y="873.60" width="3.90" height="10.00" fill="#1B9E77" />
<rect x="485.05" y="873.60" width="3.90" height="10.00" fill="#1B9E77" />
<circle cx="414.00" cy="878.60" r="4.8" fill="#1B9E77"/>
<line x1="63.50" y1="913.40" x2="240.00" y2="913.40" stroke="#7570B3" stroke-width="4.0" />
<rect x="61.55" y="908.40" width="3.90" height="10.00" fill="#7570B3" />
<rect x="238.05" y="908.40" width="3.90" height="10.00" fill="#7570B3" />
<circle cx="150.40" cy="913.40" r="4.8" fill="#7570B3"/>
<line x1="75.40" y1="947.60" x2="228.00" y2="947.60" stroke="#D95F02" stroke-width="4.0" />
<rect x="73.45" y="942.60" width="3.90" height="10.00" fill="#D95F02" />
<rect x="226.05" y="942.60" width="3.90" height="10.00" fill="#D95F02" />
<circle cx="150.40" cy="947.60" r="4.8" fill="#D95F02"/>
<line x1="123.80" y1="982.10" x2="334.00" y2="982.10" stroke="#1B9E77" stroke-width="4.0" />
<rect x="121.85" y="977.10" width="3.90" height="10.00" fill="#1B9E77" />
<rect x="332.05" y="977.10" width="3.90" height="10.00" fill="#1B9E77" />
<circle cx="228.00" cy="982.10" r="4.8" fill="#1B9E77"/>
<line x1="318.00" y1="774.30" x2="318.00" y2="992.50" stroke="#111" stroke-width="1.4" stroke-dasharray="1.4 4.18"/>
<text x="318.60" y="798.20" font-size="14.3" fill="#fff" text-anchor="middle" font-weight="normal" font-style="italic" >BMI−adjusted</text>
<text x="318.60" y="901.20" font-size="14.3" fill="#fff" text-anchor="middle" font-weight="normal" font-style="italic" >BMI−unadjusted</text>
<text x="536.60" y="783.00" font-size="10.5" fill="#2F2F2F" text-anchor="middle" font-weight="bold" font-style="normal" >P−value</text>
<text x="605.90" y="783.00" font-size="10.5" fill="#2F2F2F" text-anchor="middle" font-weight="bold" font-style="normal" >OR [95% CI]</text>
<text x="536.60" y="814.30" font-size="10.5" fill="#2F2F2F" text-anchor="middle" font-weight="bold" font-style="normal" >6e−03</text>
<text x="605.90" y="814.30" font-size="10.5" fill="#2F2F2F" text-anchor="middle" font-weight="bold" font-style="normal" >1.03 [1.01 ; 1.05]</text>
<text x="536.60" y="848.20" font-size="10.5" fill="#2F2F2F" text-anchor="middle" font-weight="bold" font-style="normal" >4e−03</text>
<text x="605.90" y="848.20" font-size="10.5" fill="#2F2F2F" text-anchor="middle" font-weight="bold" font-style="normal" >1.03 [1.01 ; 1.05]</text>
<text x="536.60" y="882.40" font-size="10.5" fill="#2F2F2F" text-anchor="middle" font-weight="bold" font-style="normal" >1e−02</text>
<text x="605.90" y="882.40" font-size="10.5" fill="#2F2F2F" text-anchor="middle" font-weight="bold" font-style="normal" >1.03 [1.01 ; 1.05]</text>
<text x="536.60" y="917.20" font-size="10.5" fill="#2F2F2F" text-anchor="middle" font-weight="bold" font-style="normal" >3e−04</text>
<text x="605.90" y="917.20" font-size="10.5" fill="#2F2F2F" text-anchor="middle" font-weight="bold" font-style="normal" >0.95 [0.93 ; 0.98]</text>
<text x="536.60" y="951.40" font-size="10.5" fill="#2F2F2F" text-anchor="middle" font-weight="bold" font-style="normal" >4e−05</text>
<text x="605.90" y="951.40" font-size="10.5" fill="#2F2F2F" text-anchor="middle" font-weight="bold" font-style="normal" >0.95 [0.93 ; 0.98]</text>
<text x="536.60" y="985.90" font-size="10.5" fill="#2F2F2F" text-anchor="middle" font-weight="bold" font-style="normal" >1e−01</text>
<text x="605.90" y="985.90" font-size="10.5" fill="#2F2F2F" text-anchor="middle" font-weight="bold" font-style="normal" >0.98 [0.95 ; 1.00]</text>
<line x1="136.00" y1="992.50" x2="136.00" y2="995.50" stroke="#333" stroke-width="1.2" />
<text x="136.00" y="1004.80" font-size="8.0" fill="#3C3C3C" text-anchor="middle" font-weight="normal" font-style="normal" >0.95</text>
<line x1="318.00" y1="992.50" x2="318.00" y2="995.50" stroke="#333" stroke-width="1.2" />
<text x="318.00" y="1004.80" font-size="8.0" fill="#3C3C3C" text-anchor="middle" font-weight="normal" font-style="normal" >1.00</text>
<line x1="500.00" y1="992.50" x2="500.00" y2="995.50" stroke="#333" stroke-width="1.2" />
<text x="500.00" y="1004.80" font-size="8.0" fill="#3C3C3C" text-anchor="middle" font-weight="normal" font-style="normal" >1.05</text>
<text x="355.00" y="1017.60" font-size="10.55" fill="#000" text-anchor="middle" font-weight="normal" font-style="normal" >Estimated causal effect of T2D on OSA</text>
<text x="116.50" y="749.60" font-size="17" fill="#000" text-anchor="start" font-weight="normal" font-style="normal" >MR−method</text>
<rect x="224.10" y="740.20" width="29.40" height="7.30" fill="#1B9E77" />
<circle cx="238.80" cy="743.80" r="8.2" fill="#1B9E77"/>
<text x="269.30" y="748.30" font-size="12.5" fill="#000" text-anchor="start" font-weight="normal" font-style="normal" >IVW</text>
<rect x="307.90" y="740.20" width="29.40" height="7.30" fill="#D95F02" />
<circle cx="322.60" cy="743.80" r="8.2" fill="#D95F02"/>
<text x="352.60" y="748.30" font-size="12.5" fill="#000" text-anchor="start" font-weight="normal" font-style="normal" >MR−PRESSO</text>
<rect x="447.60" y="740.20" width="29.40" height="7.30" fill="#7570B3" />
<circle cx="462.30" cy="743.80" r="8.2" fill="#7570B3"/>
<text x="492.70" y="748.30" font-size="12.5" fill="#000" text-anchor="start" font-weight="normal" font-style="normal" >MR−RAPS</text>
<text x="0.00" y="778.60" font-size="37" fill="#000" text-anchor="start" font-weight="bold" font-style="normal" >d</text>
<rect x="519.30" y="1035.20" width="38.20" height="202.40" fill="#EBEBEB" />
<rect x="567.40" y="1035.20" width="81.40" height="202.40" fill="#EBEBEB" />
<line x1="55.60" y1="1035.20" x2="55.60" y2="1237.60" stroke="#EBEBEB" stroke-width="1" />
<line x1="107.40" y1="1035.20" x2="107.40" y2="1237.60" stroke="#EBEBEB" stroke-width="1" />
<line x1="133.60" y1="1035.20" x2="133.60" y2="1237.60" stroke="#EBEBEB" stroke-width="1" />
<line x1="159.80" y1="1035.20" x2="159.80" y2="1237.60" stroke="#EBEBEB" stroke-width="1" />
<line x1="186.00" y1="1035.20" x2="186.00" y2="1237.60" stroke="#EBEBEB" stroke-width="1" />
<line x1="211.90" y1="1035.20" x2="211.90" y2="1237.60" stroke="#EBEBEB" stroke-width="1" />
<line x1="237.60" y1="1035.20" x2="237.60" y2="1237.60" stroke="#EBEBEB" stroke-width="1" />
<line x1="44.20" y1="1073.50" x2="677.90" y2="1073.50" stroke="#EBEBEB" stroke-width="1" />
<line x1="44.20" y1="1111.70" x2="677.90" y2="1111.70" stroke="#EBEBEB" stroke-width="1" />
<line x1="44.20" y1="1150.00" x2="677.90" y2="1150.00" stroke="#EBEBEB" stroke-width="1" />
<line x1="44.20" y1="1188.20" x2="677.90" y2="1188.20" stroke="#EBEBEB" stroke-width="1" />
<line x1="44.20" y1="1226.20" x2="677.90" y2="1226.20" stroke="#EBEBEB" stroke-width="1" />
<line x1="44.20" y1="1237.60" x2="677.90" y2="1237.60" stroke="#D6D6D6" stroke-width="1.4" />
<line x1="677.90" y1="1035.20" x2="677.90" y2="1237.60" stroke="#D0D0D0" stroke-width="1.2" />
<line x1="44.20" y1="1035.20" x2="677.90" y2="1035.20" stroke="#A3A3A3" stroke-width="1.2" />
<line x1="44.20" y1="1035.20" x2="44.20" y2="1237.60" stroke="#A3A3A3" stroke-width="1.2" />
<rect x="44.20" y="1047.00" width="633.70" height="15.00" fill="#000" fill-opacity="0.555" />
<rect x="44.20" y="1123.20" width="633.70" height="15.00" fill="#000" fill-opacity="0.555" />
<line x1="73.20" y1="1073.50" x2="162.70" y2="1073.50" stroke="#7570B3" stroke-width="4.1" />
<rect x="71.25" y="1068.25" width="3.90" height="10.50" fill="#7570B3" />
<rect x="160.75" y="1068.25" width="3.90" height="10.50" fill="#7570B3" />
<circle cx="110.60" cy="1073.50" r="4.8" fill="#7570B3"/>
<line x1="76.30" y1="1111.70" x2="157.40" y2="1111.70" stroke="#1B9E77" stroke-width="4.1" />
<rect x="74.35" y="1106.45" width="3.90" height="10.50" fill="#1B9E77" />
<rect x="155.45" y="1106.45" width="3.90" height="10.50" fill="#1B9E77" />
<circle cx="110.60" cy="1111.70" r="4.8" fill="#1B9E77"/>
<line x1="126.20" y1="1150.00" x2="292.20" y2="1150.00" stroke="#7570B3" stroke-width="4.1" />
<rect x="124.25" y="1144.75" width="3.90" height="10.50" fill="#7570B3" />
<rect x="290.25" y="1144.75" width="3.90" height="10.50" fill="#7570B3" />
<circle cx="193.80" cy="1150.00" r="4.8" fill="#7570B3"/>
<line x1="138.90" y1="1188.20" x2="245.00" y2="1188.20" stroke="#D95F02" stroke-width="4.1" />
<rect x="136.95" y="1182.95" width="3.90" height="10.50" fill="#D95F02" />
<rect x="243.05" y="1182.95" width="3.90" height="10.50" fill="#D95F02" />
<circle cx="184.50" cy="1188.20" r="4.8" fill="#D95F02"/>
<line x1="142.90" y1="1226.20" x2="336.20" y2="1226.20" stroke="#1B9E77" stroke-width="4.1" />
<rect x="140.95" y="1220.95" width="3.90" height="10.50" fill="#1B9E77" />
<rect x="334.25" y="1220.95" width="3.90" height="10.50" fill="#1B9E77" />
<circle cx="221.00" cy="1226.20" r="4.8" fill="#1B9E77"/>
<line x1="81.60" y1="1037.70" x2="81.60" y2="1237.60" stroke="#111" stroke-width="1.5" stroke-dasharray="1.5 4.0"/>
<text x="322.00" y="1058.30" font-size="14.3" fill="#fff" text-anchor="middle" font-weight="normal" font-style="italic" >BMI−adjusted</text>
<text x="322.00" y="1133.90" font-size="14.3" fill="#fff" text-anchor="middle" font-weight="normal" font-style="italic" >BMI−unadjusted</text>
<text x="538.40" y="1045.90" font-size="10.3" fill="#2F2F2F" text-anchor="middle" font-weight="bold" font-style="normal" >P−value</text>
<text x="608.10" y="1045.90" font-size="10.3" fill="#2F2F2F" text-anchor="middle" font-weight="bold" font-style="normal" >OR [95% CI]</text>
<text x="538.40" y="1078.00" font-size="10.3" fill="#2F2F2F" text-anchor="middle" font-weight="bold" font-style="normal" >1e−01</text>
<text x="608.10" y="1078.00" font-size="10.3" fill="#2F2F2F" text-anchor="middle" font-weight="bold" font-style="normal" >1.28 [0.92 ; 1.78]</text>
<text x="538.40" y="1116.20" font-size="10.3" fill="#2F2F2F" text-anchor="middle" font-weight="bold" font-style="normal" >1e−01</text>
<text x="608.10" y="1116.20" font-size="10.3" fill="#2F2F2F" text-anchor="middle" font-weight="bold" font-style="normal" >1.28 [0.95 ; 1.73]</text>
<text x="538.40" y="1154.50" font-size="10.3" fill="#2F2F2F" text-anchor="middle" font-weight="bold" font-style="normal" >1e−04</text>
<text x="608.10" y="1154.50" font-size="10.3" fill="#2F2F2F" text-anchor="middle" font-weight="bold" font-style="normal" >2.08 [1.43 ; 3.02]</text>
<text x="538.40" y="1192.70" font-size="10.3" fill="#2F2F2F" text-anchor="middle" font-weight="bold" font-style="normal" >2e−03</text>
<text x="608.10" y="1192.70" font-size="10.3" fill="#2F2F2F" text-anchor="middle" font-weight="bold" font-style="normal" >1.99 [1.55 ; 2.56]</text>
<text x="538.40" y="1230.70" font-size="10.3" fill="#2F2F2F" text-anchor="middle" font-weight="bold" font-style="normal" >2e−03</text>
<text x="608.10" y="1230.70" font-size="10.3" fill="#2F2F2F" text-anchor="middle" font-weight="bold" font-style="normal" >2.34 [1.59 ; 3.44]</text>
<line x1="81.60" y1="1237.60" x2="81.60" y2="1240.60" stroke="#333" stroke-width="1.2" />
<text x="81.60" y="1250.00" font-size="7.5" fill="#3C3C3C" text-anchor="middle" font-weight="normal" font-style="normal" >1.0</text>
<line x1="133.80" y1="1237.60" x2="133.80" y2="1240.60" stroke="#333" stroke-width="1.2" />
<text x="133.80" y="1250.00" font-size="7.5" fill="#3C3C3C" text-anchor="middle" font-weight="normal" font-style="normal" >1.5</text>
<line x1="185.80" y1="1237.60" x2="185.80" y2="1240.60" stroke="#333" stroke-width="1.2" />
<text x="185.80" y="1250.00" font-size="7.5" fill="#3C3C3C" text-anchor="middle" font-weight="normal" font-style="normal" >2.0</text>
<text x="361.00" y="1263.10" font-size="10.4" fill="#000" text-anchor="middle" font-weight="normal" font-style="normal" >Estimated causal effect of OSA on T2D</text>
<text x="-1.50" y="1077.00" font-size="37" fill="#000" text-anchor="start" font-weight="bold" font-style="normal" >e</text>
</svg></body></html>
